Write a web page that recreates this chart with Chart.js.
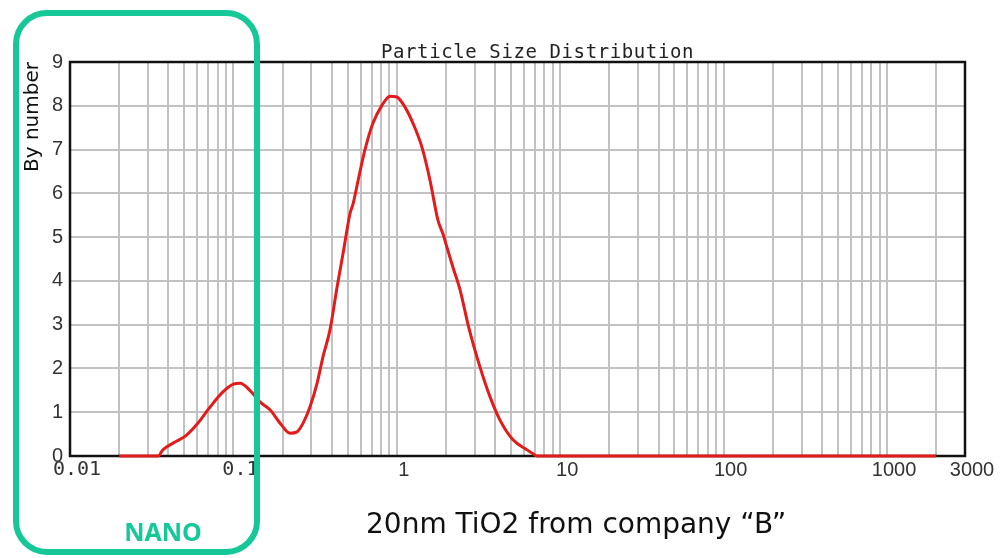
<!DOCTYPE html>
<html>
<head>
<meta charset="utf-8">
<title>Particle Size Distribution</title>
<script src="https://cdn.jsdelivr.net/npm/chart.js@4.4.1/dist/chart.umd.min.js"></script>
<style>
  body { margin: 0; background: #fff; }
  #wrap { position: relative; width: 1000px; height: 558px; overflow: hidden; }
  #nanoBox {
    position: absolute; left: 13px; top: 10px; width: 235px; height: 533px;
    border: 6px solid #16c898; border-radius: 34px; pointer-events: none;
  }
  #nanoLabel {
    position: absolute; left: 100px; width: 126px; top: 516px; text-align: center;
    font: bold 25px "Noto Sans", sans-serif; line-height: 30px; color: #16c898;
  }
  #caption {
    position: absolute; left: 366px; top: 507px; white-space: nowrap;
    font: 28px "DejaVu Sans", sans-serif; line-height: 34px; color: #111;
  }
</style>
</head>
<body>
<div id="wrap">
  <canvas id="psdChart" width="1000" height="558"></canvas>
  <div id="nanoBox"></div>
  <div id="nanoLabel">NANO</div>
  <div id="caption">20nm TiO2 from company “B”</div>
</div>
<script>
// particle size (um) and count
const sizes = [0.02, 0.0346, 0.037, 0.043, 0.051, 0.06, 0.072, 0.086, 0.1, 0.11,
  0.126, 0.146, 0.168, 0.193, 0.222, 0.245, 0.267, 0.294, 0.325, 0.353,
  0.39, 0.431, 0.469, 0.518, 0.54, 0.58, 0.638, 0.714, 0.811, 0.908,
  1.0, 1.122, 1.256, 1.426, 1.596, 1.787, 1.918, 2.03, 2.21, 2.44,
  2.75, 3.23, 3.72, 4.28, 5.14, 6.27, 6.82, 7.21, 2000];
const counts = [0, 0, 0.14, 0.30, 0.46, 0.73, 1.12, 1.46, 1.64, 1.66,
  1.50, 1.23, 1.05, 0.75, 0.52, 0.55, 0.75, 1.12, 1.66, 2.26,
  2.88, 3.86, 4.63, 5.55, 5.76, 6.30, 6.99, 7.60, 8.01, 8.22,
  8.20, 7.97, 7.60, 7.05, 6.30, 5.38, 5.07, 4.76, 4.30, 3.79,
  2.95, 2.03, 1.35, 0.82, 0.37, 0.14, 0.05, 0, 0];

const xTickLabels = [0.01, 0.1, 1, 10, 100, 1000, 3000];
const yTickLabels = [0, 1, 2, 3, 4, 5, 6, 7, 8, 9];

// grid lines at 1..9 of every decade, up to 3000
const xGrid = [];
xTickLabels.slice(0, -1).forEach(d => {
  for (let m = 1; m <= 9; m++) {
    const v = parseFloat((m * d).toPrecision(3));
    if (v <= 3000) xGrid.push(v);
  }
});
if (!xGrid.includes(3000)) xGrid.push(3000);

const points = sizes.map((s, i) => ({ x: s, y: counts[i] }));

const sans = '"Liberation Sans", Arial, sans-serif';
const mono = '"DejaVu Sans Mono", monospace';

const frameAndTitle = {
  id: 'frameAndTitle',
  beforeDatasetsDraw(chart) {
    const { ctx, chartArea: a } = chart;
    ctx.save();
    ctx.strokeStyle = '#111';
    ctx.lineWidth = 2.5;
    ctx.strokeRect(a.left, a.top, a.right - a.left, a.bottom - a.top);
    ctx.restore();
  },
  afterDraw(chart) {
    const { ctx, chartArea: a } = chart;
    ctx.save();
    ctx.font = '19px ' + mono;
    ctx.fillStyle = '#222';
    ctx.textAlign = 'center';
    ctx.textBaseline = 'alphabetic';
    if ('letterSpacing' in ctx) ctx.letterSpacing = '0.6px';
    ctx.fillText('Particle Size Distribution', (a.left + a.right) / 2 + 20, a.top - 4);
    ctx.restore();
  }
};

new Chart(document.getElementById('psdChart'), {
  type: 'line',
  data: {
    datasets: [{
      data: points,
      borderColor: '#e31b1b',
      borderWidth: 3,
      pointRadius: 0,
      cubicInterpolationMode: 'monotone',
      clip: false
    }]
  },
  options: {
    responsive: false,
    animation: false,
    layout: { padding: { top: 62, right: 35, left: 0, bottom: 0 } },
    plugins: {
      legend: { display: false },
      tooltip: { enabled: false }
    },
    scales: {
      x: {
        type: 'logarithmic',
        min: 0.01,
        max: 3000,
        afterBuildTicks: axis => { axis.ticks = xGrid.map(v => ({ value: v })); },
        afterFit: axis => { axis.height = 102; },
        grid: { color: '#c2c2c2', lineWidth: 2, drawTicks: false },
        border: { display: false },
        ticks: {
          autoSkip: false,
          maxRotation: 0,
          padding: 2,
          labelOffset: 7,
          color: '#333',
          font: c => ({ family: c.tick && c.tick.value < 1 ? mono : sans, size: 20 }),
          callback: v => xTickLabels.includes(v) ? String(v) : ''
        }
      },
      y: {
        min: 0,
        max: 9,
        afterBuildTicks: axis => { axis.ticks = yTickLabels.map(v => ({ value: v })); },
        afterFit: axis => { axis.width = 70; },
        grid: { color: '#c2c2c2', lineWidth: 2, drawTicks: false },
        border: { display: false },
        ticks: {
          padding: 7,
          color: '#333',
          font: { family: sans, size: 20 }
        },
        title: {
          display: true,
          text: 'By number',
          align: 'end',
          color: '#111',
          font: { family: '"DejaVu Sans", sans-serif', size: 20 },
          padding: { top: 21, bottom: 0 }
        }
      }
    }
  },
  plugins: [frameAndTitle]
});
</script>
</body>
</html>
